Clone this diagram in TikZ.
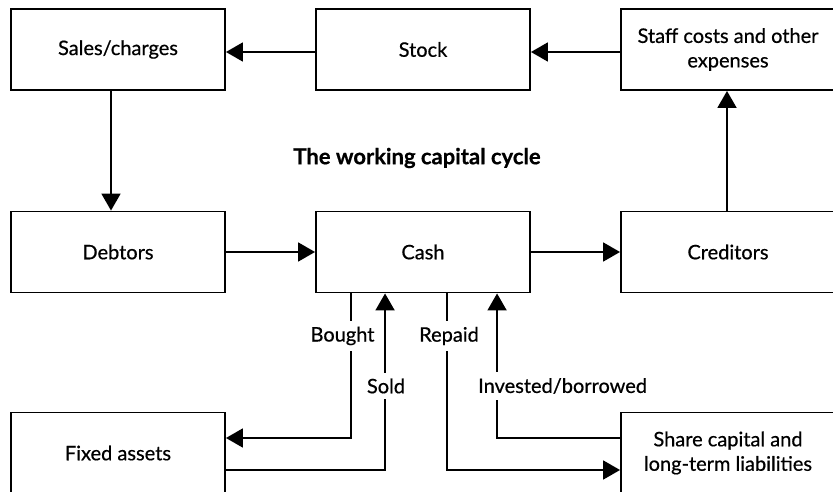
\documentclass[tikz,border=0pt]{standalone}
\usepackage{fontspec}
\setmainfont[FakeBold=0.6]{Lato}
\usetikzlibrary{arrows.meta,calc}
\begin{document}
\begin{tikzpicture}[x=1pt,y=-1pt,
  box/.style={draw,line width=1.9pt,minimum width=214pt,minimum height=81pt,inner sep=2pt,align=center,font=\fontsize{20}{24.5}\selectfont},
  conn/.style={line width=1.9pt,-{Triangle[length=17pt,width=19pt]}},
  lbl/.style={fill=white,inner xsep=1pt,inner ysep=6pt,font=\fontsize{20}{24}\selectfont}]
\useasboundingbox (0,0) rectangle (833,492);
\node[box] (sales) at (118,49.5) {Sales/charges};
\node[box] (stock) at (423,49.5) {Stock};
\node[box] (staff) at (728,49.5) {Staff costs and other\\expenses};
\node[box] (debtors) at (118,252) {Debtors};
\node[box] (cash) at (423,252) {Cash};
\node[box] (creditors) at (728,252) {Creditors};
\node[box] (fixed) at (118,453) {Fixed assets};
\node[box] (share) at (728,453) {Share capital and\\long-term liabilities};
\node[font=\bfseries\fontsize{22}{26}\selectfont] (title) at (417,158) {The working capital cycle};
% top cycle
\draw[conn] (staff.west |- 0,52) -- (stock.east |- 0,52);
\draw[conn] (stock.west |- 0,52) -- (sales.east |- 0,52);
\draw[conn] ([xshift=-7pt]sales.south) -- ([xshift=-7pt]debtors.north);
\draw[conn] ([xshift=-1pt]creditors.north) -- ([xshift=-1pt]staff.south);
\draw[conn] (debtors.east) -- (cash.west);
\draw[conn] (cash.east) -- (creditors.west);
% lower flows
\coordinate (bT) at ($(cash.south west)+(36,0)$);
\coordinate (sT) at ($(cash.south west)+(70,0)$);
\coordinate (rT) at ($(cash.south west)+(132,0)$);
\coordinate (iT) at ($(cash.south west)+(182,0)$);
\draw[conn] (bT) |- (fixed.east |- 0,438);
\draw[conn] (fixed.east |- 0,470) -| (sT);
\draw[conn] (rT) |- (share.west |- 0,470);
\draw[conn] (share.west |- 0,438) -| (iT);
\node[lbl] (bought) at (342.5,336) {Bought};
\node[lbl] (sold) at (386,386) {Sold};
\node[lbl] (repaid) at (449,336) {Repaid};
\node[lbl,anchor=west] (invested) at (477,386) {Invested/borrowed};
\end{tikzpicture}
\end{document}
